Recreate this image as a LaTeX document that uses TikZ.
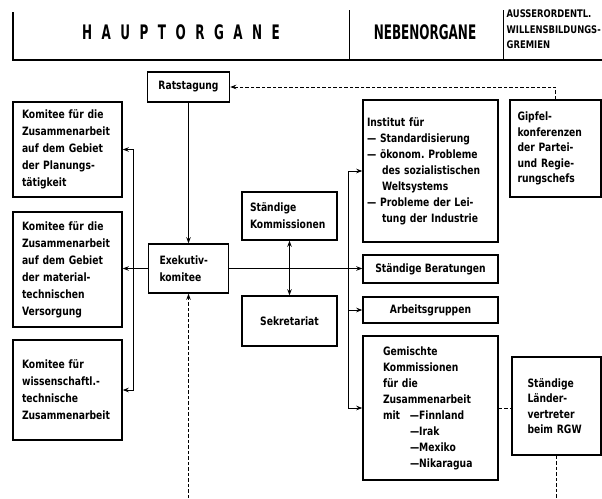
\documentclass[tikz,border=0pt]{standalone}
\usepackage{fontspec}
\setmainfont{DejaVu Sans}[FakeStretch=0.8]
\newfontfamily\hdrfont{DejaVu Sans}[FakeStretch=0.6]
\usetikzlibrary{arrows.meta, positioning}
\frenchspacing

\begin{document}
\begin{tikzpicture}[x=1pt, y=-1pt,
	box/.style={draw, line width=1.5pt, inner sep=0pt, font=\bfseries\fontsize{11.5}{17}\selectfont},
	mid/.style={font=\bfseries\fontsize{11.5}{16}\selectfont},
	low/.style={font=\bfseries\fontsize{11.5}{15.5}\selectfont},
	conn/.style={line width=0.8pt},
	dconn/.style={line width=0.8pt, dash pattern=on 3.5pt off 2pt},
	>={Stealth[length=6pt, width=4.5pt]}]
	\useasboundingbox (0,0) rectangle (602,498);
	% header
	\draw[line width=1.2pt] (13,12) -- (13,60) -- (602,60);
	\draw[line width=1pt] (349,10) -- (349,60);
	\draw[line width=1pt] (503,10) -- (503,60);
	\node[font=\hdrfont\bfseries\fontsize{20}{20}\selectfont] (haupt) at (181,32.5) {\spaceskip=9.5pt H A U P T O R G A N E};
	\node[font=\hdrfont\bfseries\fontsize{20}{20}\selectfont] (neben) at (425,32.5) {NEBENORGANE};
	\node[anchor=north west, inner sep=0pt, align=left, font=\bfseries\fontsize{10.5}{15.5}\selectfont] (gremien) at (506.5,10) {AUSSERORDENTL.\\WILLENSBILDUNGS-\\GREMIEN};
	% Hauptorgane
	\node[box, minimum width=82pt, minimum height=30pt] (rat) at (188.5,87) {Ratstagung};
	\node[box, minimum width=80pt, minimum height=49pt, text width=58pt, align=left] (exe) at (188.5,268.5) {Exekutiv-\\komitee};
	\node[box, minimum width=109pt, minimum height=95pt, text width=91pt, align=left] (kom1) at (67.5,149.5) {Komitee für die\\Zusammenarbeit\\auf dem Gebiet\\der Planungs-\\tätigkeit};
	\node[box, minimum width=109pt, minimum height=115pt, text width=91pt, align=left] (kom2) at (67.5,269.5) {Komitee für die\\Zusammenarbeit\\auf dem Gebiet\\der material-\\technischen\\Versorgung};
	\node[box, minimum width=109pt, minimum height=100pt, text width=91pt, align=left] (kom3) at (67.5,390) {Komitee für\\wissenschaftl.-\\technische\\Zusammenarbeit};
	\node[box, minimum width=95pt, minimum height=48pt, text width=79pt, align=left] (komm) at (289.5,216) {Ständige\\Kommissionen};
	\node[box, minimum width=95pt, minimum height=50pt] (sek) at (289.5,321) {Sekretariat};
	% Nebenorgane
	\node[box, mid, minimum width=135pt, minimum height=142pt, text width=127pt, align=left] (inst) at (430.5,171) {Institut für\\— Standardisierung\\— ökonom. Probleme\\\hspace*{15pt}des sozialistischen\\\hspace*{15pt}Weltsystems\\— Probleme der Lei-\\\hspace*{15pt}tung der Industrie};
	\node[box, minimum width=135pt, minimum height=28pt] (berat) at (430.5,269) {Ständige Beratungen};
	\node[box, minimum width=135pt, minimum height=26pt] (arb) at (430.5,310) {Arbeitsgruppen};
	\node[box, mid, minimum width=135pt, minimum height=144pt, text width=95pt, align=left] (gem) at (430.5,408) {Gemischte\\Kommissionen\\für die\\Zusammenarbeit\\\makebox[27pt][l]{mit}—Finnland\\\hspace*{27pt}—Irak\\\hspace*{27pt}—Mexiko\\\hspace*{27pt}—Nikaragua};
	% Gremien
	\node[box, low, minimum width=91pt, minimum height=97pt, text width=76pt, align=left] (gipfel) at (555.5,148.5) {Gipfel-\\konferenzen\\der Partei-\\und Regie-\\rungschefs};
	\node[box, low, minimum width=89pt, minimum height=98pt, text width=58pt, align=left] (laender) at (556.5,406) {Ständige\\Länder-\\vertreter\\beim RGW};
	% connectors
	\coordinate (lbus) at (133,268.5);
	\coordinate (rbus) at (348,268.5);
	\coordinate (ebot) at (188.5,498);
	\coordinate (lbot) at (556.5,498);
	\draw[conn, ->] (rat) -- (exe);
	\draw[dconn, ->] (gipfel.north) |- (rat.east);
	\draw[conn, ->] (exe.west) -- (lbus) -- (kom2.east |- lbus);
	\draw[conn, ->] (lbus) |- (kom1.east);
	\draw[conn, ->] (lbus) |- (kom3.east);
	\draw[conn, ->] (exe.east) -- (berat.west |- exe.east);
	\draw[conn, ->] (rbus) |- (inst.west);
	\draw[conn, ->] (rbus) |- (arb.west);
	\draw[conn, ->] (rbus) |- (gem.west);
	\draw[conn, <->] (komm) -- (sek);
	\draw[dconn, ->] (ebot) -- (exe);
	\draw[dconn] (gem.east) -- (gem.east -| laender.west);
	\draw[dconn] (laender) -- (lbot);
\end{tikzpicture}
\end{document}
